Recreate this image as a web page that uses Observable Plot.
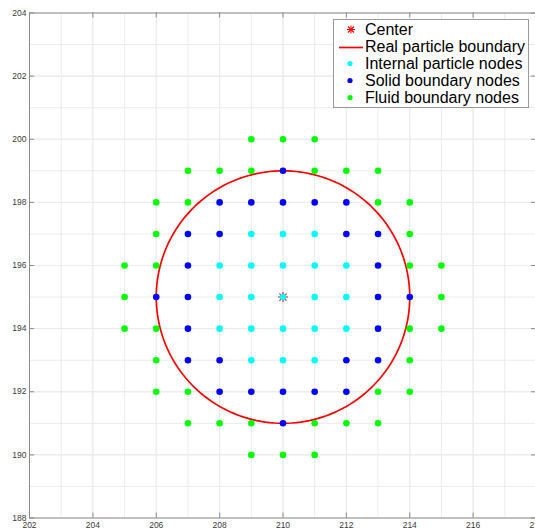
<!DOCTYPE html>
<html>
<head>
<meta charset="utf-8">
<script src="https://cdn.jsdelivr.net/npm/d3@7"></script>
<script src="https://cdn.jsdelivr.net/npm/@observablehq/plot@0.6"></script>
<style>
  html, body { margin: 0; padding: 0; background: #fff; overflow: hidden; }
  #wrap { position: relative; width: 535px; height: 529px; }
  #legend { position: absolute; left: 333px; top: 19px; width: 194px; height: 87px;
    border: 1px solid #9a9a9a; background: #fff; font-family: "Liberation Sans", Helvetica, Arial, sans-serif;
    font-size: 16px; color: #000; }
  .row { position: absolute; left: 0; height: 17px; line-height: 17px; white-space: nowrap; }
  .row svg { position: absolute; left: 2px; top: 0; }
  .row span { position: absolute; left: 31px; top: 0; }
</style>
</head>
<body>
<div id="wrap"></div>
<script>
// ---- data ----
const xDomain = [202, 218];
const yDomain = [188, 204];
const xTicks = [202, 204, 206, 208, 210, 212, 214, 216, 218];
const yTicks = [188, 190, 192, 194, 196, 198, 200, 202, 204];
const xGrid = [203, 204, 205, 206, 207, 208, 209, 210, 211, 212, 213, 214, 215, 216, 217];
const yGrid = [189, 190, 191, 192, 193, 194, 195, 196, 197, 198, 199, 200, 201, 202, 203];

const center = [210, 195];
const radius = 4;

// rows: [y, [x...]]
const internalRows = [
  [197, [209, 210, 211]],
  [196, [208, 209, 210, 211, 212]],
  [195, [208, 209, 210, 211, 212]],
  [194, [208, 209, 210, 211, 212]],
  [193, [209, 210, 211]]
];
const solidRows = [
  [199, [210]],
  [198, [208, 209, 210, 211, 212]],
  [197, [207, 208, 212, 213]],
  [196, [207, 213]],
  [195, [206, 207, 213, 214]],
  [194, [207, 213]],
  [193, [207, 208, 212, 213]],
  [192, [208, 209, 210, 211, 212]],
  [191, [210]]
];
const fluidRows = [
  [200, [209, 210, 211]],
  [199, [207, 208, 209, 211, 212, 213]],
  [198, [206, 207, 213, 214]],
  [197, [206, 214]],
  [196, [205, 206, 214, 215]],
  [195, [205, 215]],
  [194, [205, 206, 214, 215]],
  [193, [206, 214]],
  [192, [206, 207, 213, 214]],
  [191, [207, 208, 209, 211, 212, 213]],
  [190, [209, 210, 211]]
];

const legendLabels = ["Center", "Real particle boundary", "Internal particle nodes", "Solid boundary nodes", "Fluid boundary nodes"];
const legendKinds = ["star", "line", "dot", "dot", "dot"];
const legendColors = ["#ff0000", "#ff0000", "#00ffff", "#0000ff", "#00ff00"];

// ---- build ----
const flat = rows => rows.flatMap(([y, xs]) => xs.map(x => ({x, y})));
const internal = flat(internalRows);
const solid = flat(solidRows);
const fluid = flat(fluidRows);
const circle = d3.range(0, 361, 2).map(a => ({
  x: center[0] + radius * Math.cos(a * Math.PI / 180),
  y: center[1] + radius * Math.sin(a * Math.PI / 180)
}));

const W = 535, H = 529, mL = 29, mR = -1, mT = 12.5, mB = 11.5;
const iW = W - mL - mR, iH = H - mT - mB;
const tickLen = 5;
const axisColor = "#8a8a8a";
const gridColor = "#ebebeb";
const labelColor = "#3a3a3a";

const chart = Plot.plot({
  width: W, height: H,
  marginLeft: mL, marginRight: mR, marginTop: mT, marginBottom: mB,
  style: { fontFamily: "'Liberation Sans', Helvetica, Arial, sans-serif", background: "#fff" },
  x: { domain: xDomain },
  y: { domain: yDomain },
  marks: [
    Plot.ruleX(xGrid, { x: d => d, stroke: gridColor, strokeWidth: 1 }),
    Plot.ruleY(yGrid, { y: d => d, stroke: gridColor, strokeWidth: 1 }),
    Plot.ruleX(xTicks, { x: d => d, stroke: gridColor, strokeWidth: 1 }),
    Plot.ruleY(yTicks, { y: d => d, stroke: gridColor, strokeWidth: 1 }),
    Plot.tickX(xTicks, { x: d => d, insetTop: iH - tickLen, stroke: axisColor }),
    Plot.tickX(xTicks, { x: d => d, insetBottom: iH - tickLen, stroke: axisColor }),
    Plot.tickY(yTicks, { y: d => d, insetRight: iW - tickLen, stroke: axisColor }),
    Plot.tickY(yTicks, { y: d => d, insetLeft: iW - tickLen, stroke: axisColor }),
    Plot.frame({ stroke: axisColor, strokeWidth: 1 }),
    Plot.axisX({ ticks: xTicks, tickSize: 0, tickPadding: 4, fontSize: 8.5, color: labelColor, label: null }),
    Plot.axisY({ ticks: yTicks, tickSize: 0, tickPadding: 3, fontSize: 8.5, color: labelColor, label: null }),
    Plot.dot([center], { x: d => d[0], y: d => d[1], symbol: "plus", r: 3.3, stroke: "#ff0000", strokeWidth: 1.1 }),
    Plot.dot([center], { x: d => d[0], y: d => d[1], symbol: "times", r: 3.3, stroke: "#ff0000", strokeWidth: 1.1 }),
    Plot.line(circle, { x: "x", y: "y", stroke: "#ff0000", strokeWidth: 1.7 }),
    Plot.dot(internal, { x: "x", y: "y", r: 3.3, fill: "#00ffff", stroke: null }),
    Plot.dot(solid, { x: "x", y: "y", r: 3.3, fill: "#0000ff", stroke: null }),
    Plot.dot(fluid, { x: "x", y: "y", r: 3.3, fill: "#00ff00", stroke: null })
  ]
});

const wrap = document.getElementById("wrap");
wrap.appendChild(chart);

// legend
const legend = d3.select(wrap).append("div").attr("id", "legend");
legendLabels.forEach((label, i) => {
  const row = legend.append("div").attr("class", "row").style("top", (0.5 + i * 17) + "px");
  const svg = row.append("svg").attr("width", 28).attr("height", 17);
  const c = legendColors[i];
  if (legendKinds[i] === "line") {
    svg.append("line").attr("x1", 3).attr("x2", 27).attr("y1", 9.5).attr("y2", 9.5).attr("stroke", c).attr("stroke-width", 1.7);
  } else if (legendKinds[i] === "star") {
    const g = svg.append("g").attr("transform", "translate(15,8.5)").attr("stroke", c).attr("stroke-width", 1.1);
    g.append("line").attr("x1", -4).attr("x2", 4).attr("y1", 0).attr("y2", 0);
    g.append("line").attr("x1", 0).attr("x2", 0).attr("y1", -4).attr("y2", 4);
    g.append("line").attr("x1", -3).attr("x2", 3).attr("y1", -3).attr("y2", 3);
    g.append("line").attr("x1", -3).attr("x2", 3).attr("y1", 3).attr("y2", -3);
  } else {
    svg.append("circle").attr("cx", 14).attr("cy", 8.5).attr("r", 2.6).attr("fill", c);
  }
  row.append("span").text(label);
});
</script>
</body>
</html>
